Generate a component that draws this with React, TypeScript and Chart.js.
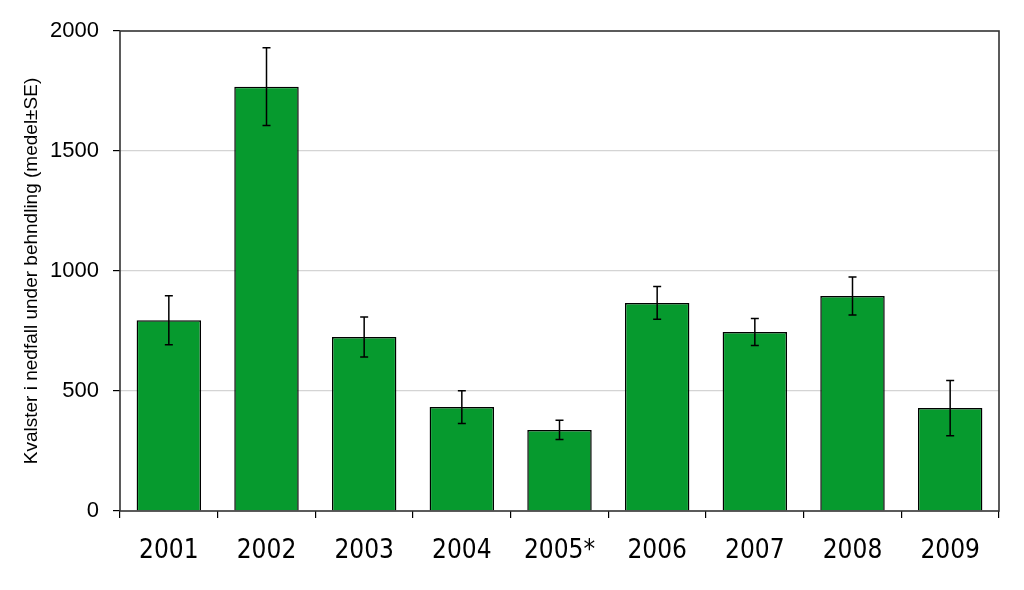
import React, { useEffect, useRef } from "react";
import { Chart, registerables } from "chart.js";

Chart.register(...registerables);

const categories = ["2001", "2002", "2003", "2004", "2005*", "2006", "2007", "2008", "2009"];
const means = [795, 1768, 725, 433, 338, 867, 746, 896, 429];
const errors = [102, 162, 83, 68, 40, 68, 56, 79, 115];
const yTicks = [0, 500, 1000, 1500, 2000];
const yTitle = "Kvalster i nedfall under behndling (medel±SE)";

const errorBarPlugin = {
  id: "errorBars",
  afterDatasetsDraw(chart: any) {
    const ctx = chart.ctx;
    const meta = chart.getDatasetMeta(0);
    const y = chart.scales.y;
    ctx.save();
    ctx.strokeStyle = "#000";
    ctx.lineWidth = 1.5;
    meta.data.forEach((bar: any, i: number) => {
      const x = bar.x;
      const top = y.getPixelForValue(means[i] + errors[i]);
      const bot = y.getPixelForValue(means[i] - errors[i]);
      ctx.beginPath();
      ctx.moveTo(x, top);
      ctx.lineTo(x, bot);
      ctx.moveTo(x - 4, top);
      ctx.lineTo(x + 4, top);
      ctx.moveTo(x - 4, bot);
      ctx.lineTo(x + 4, bot);
      ctx.stroke();
    });
    ctx.restore();
  },
  afterDraw(chart: any) {
    const { ctx, chartArea } = chart;
    ctx.save();
    ctx.strokeStyle = "#333";
    ctx.lineWidth = 1.6;
    ctx.strokeRect(chartArea.left, chartArea.top, chartArea.right - chartArea.left, chartArea.bottom - chartArea.top);
    ctx.restore();
  },
};

export default function App() {
  const ref = useRef<HTMLCanvasElement>(null);
  useEffect(() => {
    if (!ref.current) return;
    const chart = new Chart(ref.current, {
      type: "bar",
      data: {
        labels: categories,
        datasets: [
          {
            data: means,
            backgroundColor: "#069a2e",
            borderColor: "#000",
            borderWidth: 1.5,
            barPercentage: 0.66,
            categoryPercentage: 1,
          },
        ],
      },
      options: {
        responsive: false,
        animation: false,
        layout: { padding: { left: 0, right: 25, top: 31, bottom: 0 } },
        plugins: { legend: { display: false }, tooltip: { enabled: false } },
        scales: {
          x: {
            offset: true,
            border: { display: false },
            grid: {
              offset: true,
              drawOnChartArea: false,
              drawTicks: true,
              tickLength: 7,
              color: "#000",
              lineWidth: 1.2,
            },
            ticks: {
              color: "#000",
              padding: 18,
              font: { family: "'DejaVu Sans Condensed', 'DejaVu Sans'", size: 26 },
              maxRotation: 0,
            },
            afterFit(scale: any) {
              scale.height = 79;
            },
          },
          y: {
            min: 0,
            max: 2000,
            border: { display: false },
            afterBuildTicks(scale: any) {
              scale.ticks = yTicks.map((v) => ({ value: v }));
            },
            grid: {
              color: (c: any) =>
                c.tick && (c.tick.value === 0 || c.tick.value === 2000) ? "rgba(0,0,0,0)" : "#d4d4d4",
              tickColor: "#000",
              tickLength: 7,
              lineWidth: 1.2,
            },
            ticks: {
              color: "#000",
              padding: 14,
              font: { family: "'Liberation Sans', Arial", size: 22 },
              callback: (v: any) => String(v),
            },
            title: {
              display: true,
              text: yTitle,
              color: "#000",
              font: { family: "'Liberation Sans', Arial", size: 19 },
              padding: { top: 20, bottom: 0 },
            },
            afterFit(scale: any) {
              scale.width = 120;
            },
          },
        },
      },
      plugins: [errorBarPlugin],
    });
    return () => chart.destroy();
  }, []);
  return (
    <div style={{ position: "absolute", left: 0, top: 0, width: 1024, height: 590, background: "#fff" }}>
      <canvas ref={ref} width={1024} height={590} />
    </div>
  );
}
